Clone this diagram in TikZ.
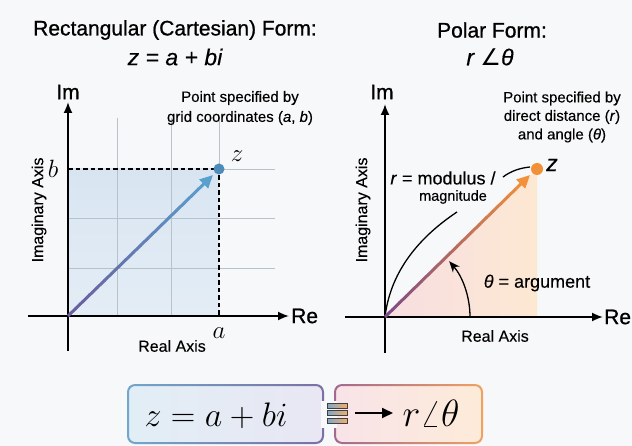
\RequirePackage{fix-cm}
\documentclass[tikz,border=0pt]{standalone}
\usepackage[no-math]{fontspec}
\setmainfont{Liberation Sans}[FakeBold=0.25]
\newfontfamily\medfont{Liberation Sans}[FakeBold=0.9]
\newfontfamily\djv{DejaVu Sans}
\usetikzlibrary{arrows.meta,calc}
\definecolor{bgc}{HTML}{F7F8F9}
\definecolor{gridc}{HTML}{B9C1C9}
\definecolor{rectA}{HTML}{D8E5F1}
\definecolor{rectB}{HTML}{E4EDF6}
\definecolor{ptblue}{HTML}{4D8BBB}
\definecolor{vecAs}{HTML}{6A5F9E}
\definecolor{vecAe}{HTML}{5AA0CE}
\definecolor{ptorange}{HTML}{F29038}
\definecolor{vecBs}{HTML}{7E4B86}
\definecolor{vecBe}{HTML}{F3913A}
\definecolor{triA}{HTML}{F7DEE2}
\definecolor{triB}{HTML}{FDE8D2}
\definecolor{boxAfillL}{HTML}{E2EEF6}
\definecolor{boxAfillR}{HTML}{E8E7F3}
\definecolor{boxBfillL}{HTML}{F8E3E8}
\definecolor{boxBfillR}{HTML}{FDEBD9}
\definecolor{boxAbL}{HTML}{72A6CA}
\definecolor{boxAbR}{HTML}{7A70A6}
\definecolor{boxBbL}{HTML}{A2698F}
\definecolor{boxBbR}{HTML}{F0A262}
\begin{document}
\begin{tikzpicture}[x=1pt,y=-1pt,
  axis/.style={line width=1.8pt,-{Latex[length=11pt,width=9pt]}},
  gridline/.style={draw=gridc,line width=0.8pt},
  dashline/.style={draw=black,line width=1.3pt,dash pattern=on 4.5pt off 3pt},
  titletext/.style={font=\fontsize{21}{25}\selectfont\medfont,inner sep=0pt},
  formtext/.style={font=\fontsize{23}{27}\selectfont\itshape,inner sep=0pt},
  axlab/.style={font=\fontsize{21}{25}\selectfont\medfont,inner sep=0pt},
  axname/.style={font=\fontsize{16}{19}\selectfont,inner sep=0pt},
  smalltext/.style={font=\fontsize{15}{20}\selectfont,inner sep=0pt,align=center},
  midtext/.style={font=\fontsize{18}{21}\selectfont,inner sep=0pt},
  mathlab/.style={font=\fontsize{25}{29}\selectfont,inner sep=0pt},
  bigmath/.style={font=\fontsize{34}{40}\selectfont,inner sep=0pt},
  thinblack/.style={draw=black,line width=1.3pt}
]
\useasboundingbox (0,0) rectangle (632,446);
\fill[bgc] (0,0) rectangle (632,446);

% ---------- titles ----------
\node[titletext] (t1) at (175,30) {Rectangular (Cartesian) Form:};
\node[formtext] (t1f) at (175,57) {z = a + bi};
\node[titletext] (t2) at (492,30) {Polar Form:};
\node[formtext] (t2f) at (490,57) {r {\upshape\djv ∠}θ};

% ---------- left panel ----------
\coordinate (O1) at (68,316);
\coordinate (Z1) at (219,169);
\coordinate (T1) at (213,175);
\shade[top color=rectA,bottom color=rectB] (O1) rectangle (Z1);
\foreach \x in {117,171} \draw[gridline] (\x,118) -- (\x,316);
\draw[gridline] (219,118) -- (Z1);
\foreach \y in {218,268} \draw[gridline] (68,\y) -- (275,\y);
\draw[gridline] (Z1) -- (275,169);
\draw[dashline] (O1 |- Z1) -- (Z1) -- (Z1 |- O1);
\coordinate (X1s) at (28,316);
\coordinate (X1e) at (289,316);
\coordinate (Y1s) at (68,351);
\coordinate (Y1e) at (68,102);
\draw[axis] (X1s) -- (X1e);
\draw[axis] (Y1s) -- (Y1e);
\foreach \i in {0,...,18} {
  \pgfmathtruncatemacro\p{\i*100/19}
  \draw[line width=3pt,color=vecAe!\p!vecAs] ($(O1)!{\i/20}!(T1)$) -- ($(O1)!{(\i+1.05)/20}!(T1)$);
}
\draw[line width=3pt,color=vecAe,-{Triangle[length=13pt,width=12pt]}] ($(O1)!{19/20}!(T1)$) -- (T1);
\fill[ptblue] (Z1) circle (5.5);
\node[axlab] (im1) at (68,92) {Im};
\node[axlab,anchor=west] (re1) at (291,316) {Re};
\node[axname,rotate=90] (ia1) at (39,210) {Imaginary Axis};
\node[axname] (ra1) at (172,346) {Real Axis};
\node[mathlab] (lb) at (53,169) {$b$};
\node[mathlab] (la) at (219,333) {$a$};
\node[mathlab] (lz1) at (237,156) {$z$};
\node[smalltext] (pt1) at (240,108) {Point specified by\\grid coordinates (\textit{a}, \textit{b})};

% ---------- right panel ----------
\coordinate (O2) at (385,317);
\coordinate (Z2) at (537,169);
\coordinate (T2) at (530,175);
\shade[left color=triA,right color=triB] (O2) -- (Z2) -- (Z2 |- O2) -- cycle;
\coordinate (X2s) at (345,317);
\coordinate (X2e) at (603,317);
\coordinate (Y2s) at (385,353);
\coordinate (Y2e) at (385,104);
\draw[axis] (X2s) -- (X2e);
\draw[axis] (Y2s) -- (Y2e);
\coordinate (A1) at (470,317);
\draw[thinblack,-{Stealth[length=11pt,width=9pt]}] (A1) arc[start angle=0,end angle=-41,radius=85];
\coordinate (R1) at (457,212);
\draw[thinblack] (O2) .. controls (390,275) and (415,240) .. (R1);
\coordinate (R2s) at (503,177);
\coordinate (R2e) at (530,167);
\draw[thinblack] (R2s) .. controls (511,171) and (520,168) .. (R2e);
\foreach \i in {0,...,18} {
  \pgfmathtruncatemacro\p{\i*100/19}
  \draw[line width=3pt,color=vecBe!\p!vecBs] ($(O2)!{\i/20}!(T2)$) -- ($(O2)!{(\i+1.05)/20}!(T2)$);
}
\draw[line width=3pt,color=vecBe,-{Triangle[length=13pt,width=12pt]}] ($(O2)!{19/20}!(T2)$) -- (T2);
\fill[ptorange] (Z2) circle (6);
\node[axlab,anchor=west] (re2) at (604,317) {Re};
\node[axlab] (im2) at (382,92) {Im};
\node[axname,rotate=90] (ia2) at (363,210) {Imaginary Axis};
\node[axname] (ra2) at (495,336) {Real Axis};
\node[formtext] (lz2) at (552,165) {z};
\node[smalltext,font=\fontsize{15}{18.5}\selectfont] (pt2) at (562,117) {Point specified by\\direct distance (\textit{r})\\and angle (\textit{θ})};
\node[midtext] (mod) at (443,178) {\textit{r} = modulus /};
\node[smalltext,font=\fontsize{14.5}{17}\selectfont] (mag) at (453,197) {magnitude};
\node[midtext] (arg) at (537,283) {\textit{θ} = argument};

% ---------- bottom equivalence ----------
\shade[left color=boxAfillL,right color=boxAfillR,rounded corners=8pt] (128,385) rectangle (323,443);
\shade[left color=boxAbL,right color=boxAbR,even odd rule] [rounded corners=8pt] (127,384) rectangle (324,444) [rounded corners=6.2pt] (129,386) rectangle (322,442);
\shade[left color=boxBfillL,right color=boxBfillR,rounded corners=8pt] (335,385) rectangle (482,443);
\shade[left color=boxBbL,right color=boxBbR,even odd rule] [rounded corners=8pt] (334,384) rectangle (483,444) [rounded corners=6.2pt] (336,386) rectangle (481,442);
\fill[bgc] (321,401) rectangle (337,428);
\foreach \yy in {403,410.8,418.6}
  \shade[left color=ptblue!75,right color=ptorange!75,draw=black!75,line width=0.9pt] (327,\yy) rectangle (347,\yy+5);
\node[bigmath,anchor=base] (eqL) at (216,426) {$z = a + bi$};
\node[bigmath,anchor=base,font=\fontsize{38}{44}\selectfont] (eqR) at (431,426) {$r\angle\theta$};
\coordinate (arrS) at (355,413);
\coordinate (arrE) at (393,413);
\draw[line width=1.8pt,-{Triangle[length=11pt,width=10pt]}] (arrS) -- (arrE);
\end{tikzpicture}
\end{document}
